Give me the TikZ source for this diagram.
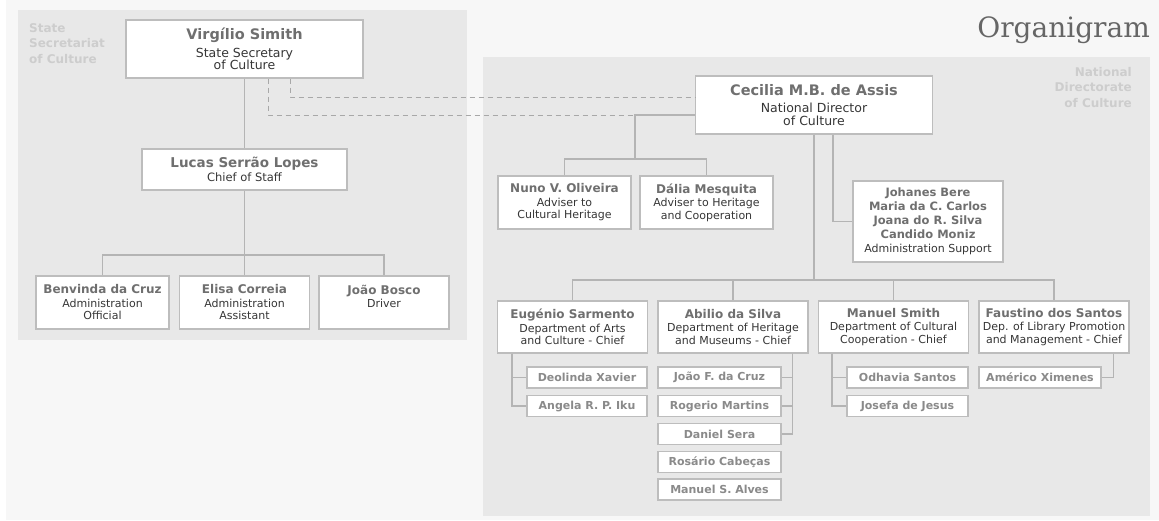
\documentclass[tikz,border=0pt]{standalone}
\usepackage{fontspec}
\setmainfont{DejaVu Sans}
\newfontfamily\titlefont{DejaVu Serif}
\usepackage{tikz}

\definecolor{pagegray}{HTML}{F7F7F7}
\definecolor{panelgray}{HTML}{E8E8E8}
\definecolor{boxgray}{HTML}{BDBDBD}
\definecolor{linegray}{HTML}{B4B4B4}
\definecolor{dashgray}{HTML}{A8A8A8}
\definecolor{namegray}{HTML}{6F6F6F}
\definecolor{rolegray}{HTML}{363636}
\definecolor{subgray}{HTML}{8A8A8A}
\definecolor{labelgray}{HTML}{CDCDCD}
\definecolor{titlegray}{HTML}{666666}

\newcommand{\pname}[2][12]{{\fontsize{#1}{#1}\selectfont\bfseries\color{namegray}#2}}

\tikzset{
    unit/.style={draw=boxgray, line width=1.2pt, fill=white, align=center, inner sep=0pt,
        text=rolegray, font=\fontsize{11}{12.5}\selectfont},
    topunit/.style={unit, minimum width=237pt, minimum height=58pt, font=\fontsize{12.5}{12.5}\selectfont},
    dept/.style={unit, minimum width=150pt, minimum height=52pt},
    member/.style={unit, minimum height=21pt, text=subgray, font=\fontsize{11}{12}\selectfont\bfseries},
    link/.style={draw=linegray, line width=1.2pt},
    dashlink/.style={draw=dashgray, line width=1pt, dash pattern=on 5pt off 4pt},
    panellabel/.style={inner sep=0pt, text=labelgray, font=\fontsize{12}{15.5}\selectfont\bfseries}
}

\begin{document}
\begin{tikzpicture}[x=1pt, y=-1pt]
        \useasboundingbox (0,0) rectangle (1159,520);
        \fill[white] (0,0) rectangle (1159,520);
        \fill[pagegray] (6,0) rectangle (1159,520);
        \fill[panelgray] (18,10) rectangle (467,340);
        \fill[panelgray] (483,57) rectangle (1150,516);

        \node[panellabel, align=left, anchor=north west] (sslabel) at (29,23) {State\\Secretariat\\of Culture};
        \node[panellabel, align=right, anchor=north east] (ndlabel) at (1132,67) {National\\Directorate\\of Culture};
        \node[inner sep=0pt, anchor=base east, text=titlegray, font=\titlefont\fontsize{28}{28}\selectfont] (title) at (1150,37) {Organigram};

        % state secretariat
        \node[topunit] (ss) at (244.5,49) {\pname[14.5]{Virgílio Simith}\\[5pt]State Secretary\\of Culture};
        \node[unit, minimum width=205pt, minimum height=41pt, font=\fontsize{11.5}{12.5}\selectfont] (cos) at (244.5,169.5) {\pname[13.5]{Lucas Serrão Lopes}\\[1pt]Chief of Staff};
        \node[unit, minimum width=133pt, minimum height=53pt] (benv) at (102.5,302.5) {\pname{Benvinda da Cruz}\\[1pt]Administration\\Official};
        \node[unit, minimum width=130pt, minimum height=53pt] (elisa) at (244.5,302.5) {\pname{Elisa Correia}\\[1pt]Administration\\Assistant};
        \node[unit, minimum width=130pt, minimum height=53pt] (bosco) at (384,302.5) {\pname{João Bosco}\\[1pt]Driver\\\mbox{}};

        \coordinate (sbus) at (244.5,255);
        \draw[link] (ss) -- (cos);
        \draw[link] (cos) -- (elisa);
        \draw[link] (benv.north) |- (sbus) -| (bosco.north);

        % national directorate
        \node[topunit] (dir) at (814,105) {\pname[14.5]{Cecilia M.B. de Assis}\\[5pt]National Director\\of Culture};
        \node[unit, minimum width=133pt, minimum height=53pt] (nuno) at (564.5,202.5) {\pname{Nuno V. Oliveira}\\[1pt]Adviser to\\Cultural Heritage};
        \node[unit, minimum width=133pt, minimum height=53pt] (dalia) at (706.5,202.5) {\pname{Dália Mesquita}\\[1pt]Adviser to Heritage\\and Cooperation};
        \node[unit, minimum width=150pt, minimum height=81pt, font=\fontsize{11}{14}\selectfont] (adm) at (928,221.5)
            {\pname[11.5]{Johanes Bere}\\\pname[11.5]{Maria da C. Carlos}\\\pname[11.5]{Joana do R. Silva}\\\pname[11.5]{Candido Moniz}\\Administration Support};

        \coordinate (advturn) at (635,115);
        \coordinate (advbus) at (635,159);
        \draw[link] (advturn -| dir.west) -- (advturn) -- (advbus);
        \draw[link] (nuno.north) |- (advbus) -| (dalia.north);
        \draw[link] ([xshift=19pt]dir.south) |- (adm.west);
        \draw[dashlink] ([xshift=23.5pt]ss.south) |- (advturn);
        \draw[dashlink] ([xshift=45.5pt]ss.south) |- ([yshift=8pt]dir.west);

        \node[dept] (eug) at (572.5,327) {\pname{Eugénio Sarmento}\\[1pt]Department of Arts\\and Culture - Chief};
        \node[dept] (abil) at (733,327) {\pname{Abilio da Silva}\\[1pt]Department of Heritage\\and Museums - Chief};
        \node[dept] (msm) at (893.5,327) {\pname{Manuel Smith}\\[1pt]Department of Cultural\\Cooperation - Chief};
        \node[dept] (faus) at (1054,327) {\pname{Faustino dos Santos}\\[1pt]Dep. of Library Promotion\\and Management - Chief};

        \coordinate (dbus) at (814,280);
        \draw[link] (dir.south) -- (dbus);
        \draw[link] (eug.north) |- (dbus) -| (faus.north);
        \draw[link] (abil.north) |- (dbus);
        \draw[link] (msm.north) |- (dbus);

        \node[member, minimum width=120pt] (deol) at (587,377.5) {Deolinda Xavier};
        \node[member, minimum width=120pt] (ange) at (587,406) {Angela R. P. Iku};
        \node[member, minimum width=123pt] (joao) at (719.5,377.5) {João F. da Cruz};
        \node[member, minimum width=123pt] (roge) at (719.5,406) {Rogerio Martins};
        \node[member, minimum width=123pt] (dani) at (719.5,434) {Daniel Sera};
        \node[member, minimum width=123pt] (rosa) at (719.5,462) {Rosário Cabeças};
        \node[member, minimum width=123pt] (mals) at (719.5,489.5) {Manuel S. Alves};
        \node[member, minimum width=121pt] (odha) at (907.5,377.5) {Odhavia Santos};
        \node[member, minimum width=121pt] (jose) at (907.5,406) {Josefa de Jesus};
        \node[member, minimum width=122pt] (amer) at (1040,377.5) {Américo Ximenes};

        \foreach \m in {deol,ange}
            \draw[link] ([xshift=15pt]eug.south west) |- (\m.west);
        \foreach \m in {joao,roge,dani}
            \draw[link] ([xshift=-16pt]abil.south east) |- (\m.east);
        \foreach \m in {odha,jose}
            \draw[link] ([xshift=14pt]msm.south west) |- (\m.west);
        \draw[link] ([xshift=-16pt]faus.south east) |- (amer.east);
    \end{tikzpicture}
\end{document}
